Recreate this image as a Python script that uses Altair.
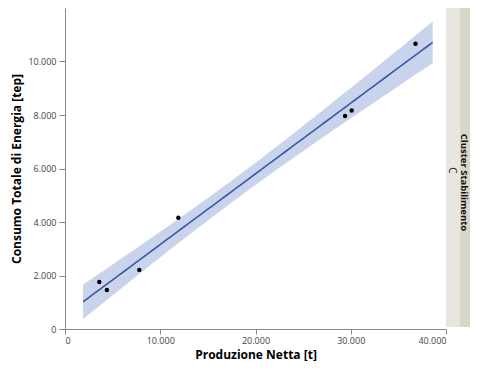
import altair as alt
import numpy as np
import pandas as pd

produzione = [3600, 4400, 7800, 11900, 29400, 30100, 36800]
consumo = [1760, 1460, 2210, 4160, 7960, 8170, 10660]
cluster_label = "C"
fit_x_range = [1900, 38600]

x_ticks = [0, 10000, 20000, 30000, 40000]
y_ticks = [0, 2000, 4000, 6000, 8000, 10000]

pts = pd.DataFrame({"x": produzione, "y": consumo})

# Linear fit with 95% confidence band of the mean
xa = np.array(produzione, float)
ya = np.array(consumo, float)
n = len(xa)
b1, b0 = np.polyfit(xa, ya, 1)
res = ya - (b0 + b1 * xa)
s = np.sqrt(np.sum(res ** 2) / (n - 2))
sxx = np.sum((xa - xa.mean()) ** 2)
tval = 2.5706  # t(0.975, df=5)
gx = np.linspace(fit_x_range[0], fit_x_range[1], 60)
gy = b0 + b1 * gx
se = s * np.sqrt(1.0 / n + (gx - xa.mean()) ** 2 / sxx)
fit = pd.DataFrame({"x": gx, "y": gy, "lo": gy - tval * se, "hi": gy + tval * se})

FONT = "Open Sans"
fmt = "replace(format(datum.value, ',d'), ',', '.')"

xscale = alt.Scale(domain=[0, 40000], nice=False, zero=True)
yscale = alt.Scale(domain=[0, 12000], nice=False)

H = 321
W = 381

xaxis = alt.Axis(values=x_ticks, labelExpr=fmt, grid=False, title="Produzione Netta [t]",
                 titleFont=FONT, titleFontSize=12, titleFontWeight="bold", titleColor="#000",
                 labelFont=FONT, labelFontSize=9, labelColor="#444", domainColor="#888",
                 tickColor="#888", tickSize=5, labelPadding=2, titlePadding=4)
yaxis = alt.Axis(values=y_ticks, labelExpr=fmt, grid=False, title="Consumo Totale di Energia [tep]",
                 titleFont=FONT, titleFontSize=12, titleFontWeight="bold", titleColor="#000",
                 labelFont=FONT, labelFontSize=9, labelColor="#444", domainColor="#888",
                 tickColor="#888", tickSize=6, labelPadding=3, titlePadding=4)

band = alt.Chart(fit).mark_area(color="#C9D3EB", opacity=1).encode(
    x=alt.X("x:Q", scale=xscale, axis=xaxis),
    y=alt.Y("lo:Q", scale=yscale, axis=yaxis),
    y2="hi:Q",
)
line = alt.Chart(fit).mark_line(color="#3A57A7", strokeWidth=1.6).encode(
    x="x:Q", y="y:Q"
)
points = alt.Chart(pts).mark_circle(color="#000", size=20, opacity=1).encode(
    x="x:Q", y="y:Q"
)

main = alt.layer(band, line, points).properties(width=W, height=H)

SW = 24
strip_df = pd.DataFrame({"label": [cluster_label], "title": ["Cluster Stabilimento"]})
strip_base = alt.Chart(strip_df)
light = strip_base.mark_rect(color="#E7E7DF").encode(
    x=alt.value(0), x2=alt.value(14), y=alt.value(0), y2=alt.value(H - 2))
dark = strip_base.mark_rect(color="#D9D8C8").encode(
    x=alt.value(14), x2=alt.value(SW), y=alt.value(0), y2=alt.value(H - 2))
lbl = strip_base.mark_text(angle=90, font=FONT, fontSize=10, color="#222").encode(
    x=alt.value(5.5), y=alt.value(H / 2 + 2), text="label:N")
ttl = strip_base.mark_text(angle=90, font=FONT, fontSize=9.5, fontWeight="bold", color="#111").encode(
    x=alt.value(18), y=alt.value(H / 2 + 14), text="title:N")
strip = alt.layer(light, dark, lbl, ttl).properties(width=SW, height=H)

chart = alt.hconcat(main, strip, spacing=0, bounds="flush").properties(
    padding={"left": 2, "top": 0, "right": 0, "bottom": 1}
).configure_view(stroke=None).configure_concat(spacing=0)

chart.save("out.html", embed_options={"renderer": "svg", "actions": False})
